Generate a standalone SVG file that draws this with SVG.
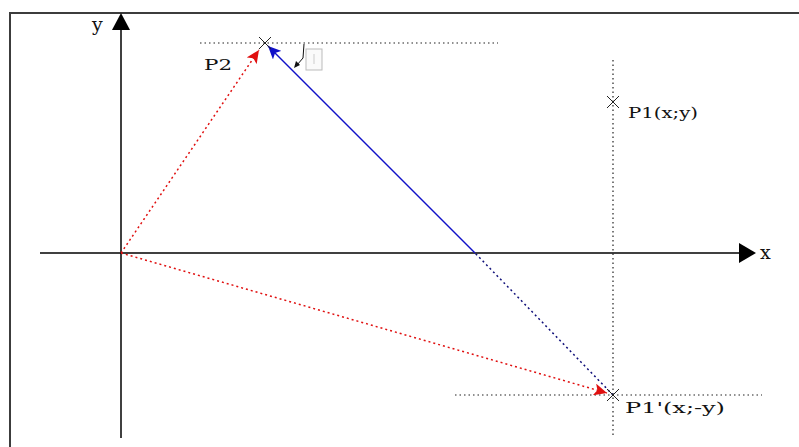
<svg xmlns="http://www.w3.org/2000/svg" width="799" height="447" viewBox="0 0 799 447">
<style>
.frame{fill:none;stroke:#3c3c3c;stroke-width:2}
.axis{fill:none;stroke:#000;stroke-width:1.5}
.guide{fill:none;stroke:#222;stroke-width:1.2;stroke-dasharray:1.5,3}
.red{fill:none;stroke:#e01010;stroke-width:1.5;stroke-dasharray:2,3}
.blue{fill:none;stroke:#1010c8;stroke-width:1.5}
.bluedot{fill:none;stroke:#10107a;stroke-width:1.5;stroke-dasharray:2,3}
.cross{fill:none;stroke:#222;stroke-width:1}
.lbl{font-family:"DejaVu Serif","Liberation Serif",serif;font-size:15px;fill:#111}
.ax{font-family:"DejaVu Serif","Liberation Serif",serif;font-size:19px;fill:#111}
</style>
<defs>
<marker id="ahRed" markerUnits="userSpaceOnUse" markerWidth="16" markerHeight="12" refX="13" refY="6" orient="auto">
<path d="M0,0 L13,6 L0,12 L3,6 Z" fill="#e01010"/>
</marker>
<marker id="ahBlue" markerUnits="userSpaceOnUse" markerWidth="16" markerHeight="12" refX="13" refY="6" orient="auto">
<path d="M0,0 L13,6 L0,12 L3,6 Z" fill="#1010c8"/>
</marker>
</defs>
<path class="frame" d="M10,447 V13 H799"/>
<g id="axes">
<line class="axis" x1="121" y1="438" x2="121" y2="28"/>
<polygon points="121,13 112,30 130,30" fill="#000"/>
<line class="axis" x1="40" y1="253" x2="742" y2="253"/>
<polygon points="756,253 739,243 739,263" fill="#000"/>
<text class="ax" x="92" y="31">y</text>
<text class="ax" x="760" y="259">x</text>
</g>
<g id="guides">
<line class="guide" x1="200" y1="43" x2="498" y2="43"/>
<line class="guide" x1="613" y1="60" x2="613" y2="437"/>
<line class="guide" x1="455" y1="395" x2="762" y2="395"/>
</g>
<g id="connectors">
<line class="red" x1="121" y1="253" x2="259" y2="50" marker-end="url(#ahRed)"/>
<line class="red" x1="121" y1="253" x2="607" y2="393" marker-end="url(#ahRed)"/>
<line class="bluedot" x1="613" y1="395" x2="475" y2="253"/>
<line class="blue" x1="475" y1="253" x2="268" y2="46" marker-end="url(#ahBlue)"/>
</g>
<g id="P2">
<path class="cross" d="M259,37 L271,49 M271,37 L259,49"/>
<text class="lbl" x="204" y="70" textLength="28" lengthAdjust="spacingAndGlyphs">P2</text>
</g>
<g id="angle-mark">
<rect x="306" y="49" width="16" height="21" fill="#fafafa" stroke="#bbb" stroke-width="1"/>
<line x1="314" y1="54" x2="314" y2="64" stroke="#ccc" stroke-width="1"/>
<path d="M304,44 L303,58 L297,65" fill="none" stroke="#111" stroke-width="1"/>
<polygon points="294,68 296,61 300,65" fill="#111"/>
</g>
<g id="P1">
<path class="cross" d="M607,96 L619,108 M619,96 L607,108"/>
<text class="lbl" x="628" y="118" textLength="70" lengthAdjust="spacingAndGlyphs">P1(x;y)</text>
</g>
<g id="P1prime">
<path class="cross" d="M607,389 L619,401 M619,389 L607,401"/>
<text class="lbl" x="625" y="413" textLength="100" lengthAdjust="spacingAndGlyphs">P1'(x;-y)</text>
</g>
</svg>
